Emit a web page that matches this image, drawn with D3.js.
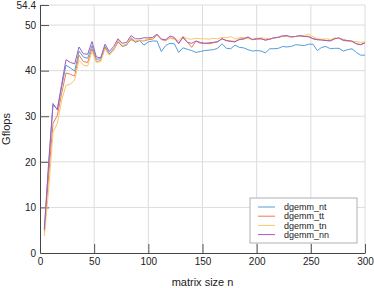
<!DOCTYPE html>
<html>
<head>
<meta charset="utf-8">
<script src="https://cdn.jsdelivr.net/npm/d3@7"></script>
<style>
  body { margin: 0; background: #fff; }
  svg { display: block; font-family: "Liberation Sans", Arial, sans-serif; }
</style>
</head>
<body>
<div id="chart"></div>
<script>
// matrix size n, sampled every 4
const sizes = d3.range(4, 301, 4);

const nt = [5.0, 19, 32.5, 31.5, 36.5, 41.2, 40.6, 39.9, 44.3, 43.0, 42.7, 45.5, 42.5, 42.6, 45.3, 43.7, 44.8, 46.4, 45.3, 45.6,
  47.1, 46.2, 46.6, 45.6, 46.3, 46.5, 46.5, 44.2, 45.5, 46.0, 45.9, 44.0, 45.0, 44.7, 44.4, 44.0, 44.2, 44.4, 44.5, 44.6,
  44.9, 45.9, 44.9, 44.8, 45.6, 45.1, 45.0, 44.6, 44.3, 44.4, 44.3, 43.9, 44.8, 44.8, 44.9, 45.3, 45.2, 45.3, 45.7, 45.6,
  45.5, 45.8, 45.8, 44.4, 45.1, 45.3, 44.8, 44.9, 44.9, 44.3, 44.6, 44.8, 44.0, 43.4, 43.4];
const tt = [4.5, 17, 28.4, 30.2, 35, 39.5, 39.2, 38.8, 43.4, 42.0, 41.8, 44.8, 42.0, 42.2, 45.0, 43.5, 44.5, 46.3, 45.3, 45.8,
  46.8, 46.4, 46.6, 46.5, 46.8, 46.9, 47.8, 46.8, 46.6, 47.2, 47.0, 46.1, 47.2, 46.3, 45.1, 46.5, 46.0, 46.0, 45.9, 46.1,
  46.3, 47.0, 46.6, 46.5, 46.4, 46.8, 46.9, 47.3, 46.8, 46.9, 47.0, 46.7, 46.9, 47.2, 47.3, 47.6, 47.5, 47.4, 47.5, 47.6,
  47.5, 47.4, 47.0, 46.8, 46.8, 46.6, 46.6, 47.0, 47.1, 46.6, 46.5, 46.4, 45.9, 45.7, 46.1];
const tn = [3.7, 14, 26.5, 28.4, 33.5, 36.8, 37.0, 38.0, 42.3, 41.2, 41.0, 44.3, 41.8, 42.0, 44.8, 43.4, 44.6, 46.8, 45.5, 45.8,
  47.3, 46.5, 46.7, 46.6, 47.0, 47.2, 47.9, 46.9, 46.8, 47.1, 46.9, 46.6, 47.5, 47.0, 46.9, 47.1, 47.0, 47.0, 46.9, 47.1,
  47.0, 47.3, 47.2, 47.5, 46.9, 47.2, 47.3, 47.0, 46.9, 47.1, 47.2, 47.1, 47.0, 47.1, 47.4, 47.7, 47.5, 47.4, 47.5, 47.6,
  47.7, 48.0, 47.4, 47.0, 46.9, 47.0, 46.8, 47.2, 47.0, 46.9, 46.6, 46.3, 46.4, 46.2, 46.3];
const nn = [5.2, 20, 32.8, 31.4, 37, 42.4, 41.8, 41.5, 45.2, 43.7, 43.6, 46.4, 43.0, 42.8, 45.8, 44.2, 45.3, 47.0, 46.0, 46.2,
  47.7, 47.0, 47.0, 47.2, 47.2, 47.3, 48.0, 46.9, 46.8, 47.6, 47.3, 45.9, 47.4, 46.2, 46.0, 46.5, 46.2, 46.0, 46.1, 46.2,
  46.4, 47.0, 46.6, 46.4, 46.3, 46.9, 47.0, 47.4, 46.8, 47.0, 47.0, 46.7, 46.9, 47.2, 47.3, 47.6, 47.7, 47.4, 47.5, 47.7,
  47.5, 47.5, 47.0, 46.8, 46.7, 46.6, 46.5, 47.0, 47.2, 46.7, 46.6, 46.5, 45.9, 45.7, 46.1];

const seriesNames = ["dgemm_nt", "dgemm_tt", "dgemm_tn", "dgemm_nn"];
const seriesColors = ["#4f9fdc", "#ef7a52", "#f7c865", "#a35dbf"];
const seriesValues = [nt, tt, tn, nn];

const xTicks = [0, 50, 100, 150, 200, 250, 300];
const yTicks = [0, 10, 20, 30, 40, 50, 54.4];

const width = 374, height = 288;
const margin = {top: 5, right: 9, bottom: 35, left: 40};

const x = d3.scaleLinear().domain([0, 300]).range([margin.left, width - margin.right]);
const y = d3.scaleLinear().domain([0, 54.4]).range([height - margin.bottom, margin.top]);

const svg = d3.select("#chart").append("svg")
    .attr("width", width)
    .attr("height", height);

// grid
svg.append("g")
    .selectAll("line")
    .data(xTicks.slice(1))
    .join("line")
    .attr("x1", d => x(d)).attr("x2", d => x(d))
    .attr("y1", y(0)).attr("y2", y(54.4))
    .attr("stroke", "#dcdcdc");

svg.append("g")
    .selectAll("line")
    .data(yTicks.slice(1))
    .join("line")
    .attr("x1", x(0)).attr("x2", x(300))
    .attr("y1", d => y(d)).attr("y2", d => y(d))
    .attr("stroke", "#dcdcdc");

// axes, ticks pointing inwards
const xAxis = svg.append("g")
    .attr("transform", `translate(0,${y(0)})`)
    .call(d3.axisBottom(x).tickValues(xTicks).tickSize(-9).tickPadding(5).tickSizeOuter(0));

const yAxis = svg.append("g")
    .attr("transform", `translate(${x(0)},0)`)
    .call(d3.axisLeft(y).tickValues(yTicks).tickFormat(d => d === 54.4 ? "54.4" : d)
        .tickSize(-9).tickPadding(4).tickSizeOuter(0));

[xAxis, yAxis].forEach(a => {
    a.select(".domain").attr("stroke", "#444");
    a.selectAll(".tick line").attr("stroke", "#555");
    a.selectAll(".tick text").attr("fill", "#222").style("font-size", "10px");
});
xAxis.selectAll(".tick").filter(d => d === 0).select("line").remove();
yAxis.selectAll(".tick").filter(d => d === 0).select("line").remove();

// lines
const line = d3.line()
    .x((d, i) => x(sizes[i]))
    .y(d => y(d));

svg.append("g")
    .attr("fill", "none")
    .attr("stroke-width", 1)
    .selectAll("path")
    .data(seriesValues)
    .join("path")
    .attr("stroke", (d, i) => seriesColors[i])
    .attr("d", line);

// axis titles
svg.append("text")
    .attr("x", (x(0) + x(300)) / 2)
    .attr("y", 286)
    .attr("text-anchor", "middle")
    .style("font-size", "11px")
    .attr("fill", "#222")
    .text("matrix size n");

svg.append("text")
    .attr("transform", `translate(10,${(y(0) + y(54.4)) / 2}) rotate(-90)`)
    .attr("text-anchor", "middle")
    .style("font-size", "11px")
    .attr("fill", "#222")
    .text("Gflops");

// legend
const legend = svg.append("g").attr("transform", "translate(250,198)");
legend.append("rect")
    .attr("width", 107).attr("height", 45)
    .attr("fill", "#fff")
    .attr("stroke", "#b0b0b0");

const item = legend.selectAll("g.item")
    .data(seriesNames)
    .join("g")
    .attr("class", "item")
    .attr("transform", (d, i) => `translate(0,${9 + i * 9.2})`);

item.append("line")
    .attr("x1", 8).attr("x2", 25)
    .attr("stroke", (d, i) => seriesColors[i]);

item.append("text")
    .attr("x", 34)
    .attr("dy", "0.35em")
    .style("font-size", "9px")
    .attr("fill", "#222")
    .text(d => d);
</script>
</body>
</html>
